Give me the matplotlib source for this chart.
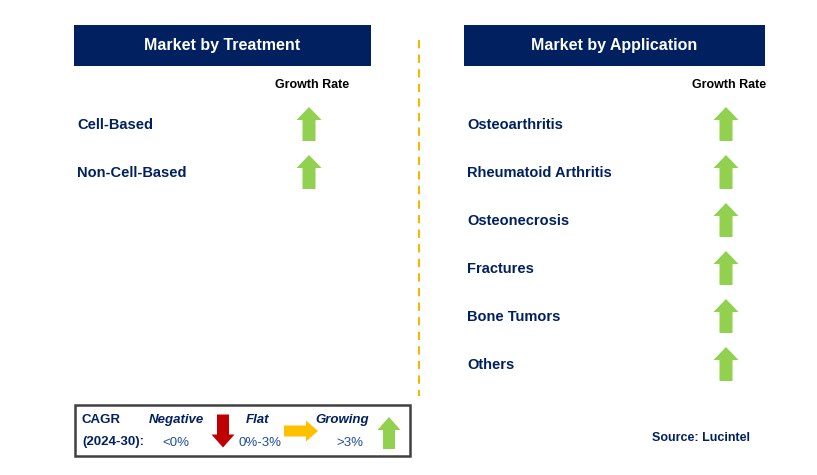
import matplotlib
matplotlib.use("Agg")
import matplotlib.pyplot as plt
from matplotlib.patches import Rectangle, Polygon

# ---- data ----
treatment_labels = ["Cell-Based", "Non-Cell-Based"]
treatment_growth = ["up", "up"]
application_labels = ["Osteoarthritis", "Rheumatoid Arthritis", "Osteonecrosis",
                      "Fractures", "Bone Tumors", "Others"]
application_growth = ["up", "up", "up", "up", "up", "up"]

NAVY = "#002060"
GREEN = "#92D050"
RED = "#C00000"
ORANGE = "#FFC000"
TEXT_BLUE = "#1F4E99"

plt.rcParams["font.family"] = ["Liberation Sans", "DejaVu Sans"]

fig = plt.figure(figsize=(8.17, 4.75), dpi=100)
ax = fig.add_axes([0, 0, 1, 1])
ax.set_xlim(0, 817)
ax.set_ylim(475, 0)
ax.axis("off")


def arrow(cx, cy, direction, color, length=34, width=25, shaft=13, head=13):
    """draw a block arrow centred at (cx, cy)"""
    h = length / 2
    w = width / 2
    s = shaft / 2
    if direction == "up":
        pts = [(cx, cy - h), (cx + w, cy - h + head), (cx + s, cy - h + head),
               (cx + s, cy + h), (cx - s, cy + h), (cx - s, cy - h + head),
               (cx - w, cy - h + head)]
    elif direction == "down":
        pts = [(cx, cy + h), (cx + w, cy + h - head), (cx + s, cy + h - head),
               (cx + s, cy - h), (cx - s, cy - h), (cx - s, cy + h - head),
               (cx - w, cy + h - head)]
    else:  # right
        pts = [(cx + h, cy), (cx + h - head, cy - w), (cx + h - head, cy - s),
               (cx - h, cy - s), (cx - h, cy + s), (cx + h - head, cy + s),
               (cx + h - head, cy + w)]
    ax.add_patch(Polygon(pts, closed=True, color=color, lw=0))


def panel(x0, x1, title, labels, growth, arrow_x):
    ax.add_patch(Rectangle((x0, 25), x1 - x0, 41, color=NAVY, lw=0))
    ax.text((x0 + x1) / 2, 45.5, title, color="white", fontsize=11.5,
            fontweight="bold", ha="center", va="center")
    ax.text(arrow_x + 3, 85, "Growth Rate", color="black", fontsize=9,
            fontweight="bold", ha="center", va="center")
    for i, (lab, g) in enumerate(zip(labels, growth)):
        y = 124 + i * 48
        ax.text(x0 + 3, y + 1, lab, color=NAVY, fontsize=10.5, fontweight="bold",
                ha="left", va="center")
        arrow(arrow_x, y, g, GREEN)


panel(74, 371, "Market by Treatment", treatment_labels, treatment_growth, 309)
panel(464, 765, "Market by Application", application_labels, application_growth, 726)

# divider
ax.plot([419, 419], [40, 396], color="#F5B800", lw=1.5, ls=(0, (4, 3)))

# legend box
ax.add_patch(Rectangle((75, 405), 335, 51, fill=False, edgecolor="#404040", lw=1.8))
ax.text(82, 420, "CAGR", color=NAVY, fontsize=9.5, fontweight="bold", ha="left", va="center")
ax.text(82, 442, "(2024-30):", color=NAVY, fontsize=9.5, fontweight="bold", ha="left", va="center")
ax.text(176, 420, "Negative", color=NAVY, fontsize=9.5, fontweight="bold", style="italic",
        ha="center", va="center")
ax.text(176, 443, "<0%", color=TEXT_BLUE, fontsize=9.5, ha="center", va="center")
arrow(223, 431, "down", RED, length=33, width=23, shaft=12, head=13)
ax.text(258, 420, "Flat", color=NAVY, fontsize=9.5, fontweight="bold", style="italic",
        ha="center", va="center")
ax.text(260, 443, "0%-3%", color=TEXT_BLUE, fontsize=9.5, ha="center", va="center")
arrow(301, 431, "right", ORANGE, length=34, width=21, shaft=11, head=12)
ax.text(342, 420, "Growing", color=NAVY, fontsize=9.5, fontweight="bold", style="italic",
        ha="center", va="center")
ax.text(350, 443, ">3%", color=TEXT_BLUE, fontsize=9.5, ha="center", va="center")
arrow(389, 433, "up", GREEN, length=32, width=23, shaft=12, head=13)

ax.text(750, 438, "Source: Lucintel", color=NAVY, fontsize=9, fontweight="bold",
        ha="right", va="center")

fig.savefig("out.png", dpi=100)
